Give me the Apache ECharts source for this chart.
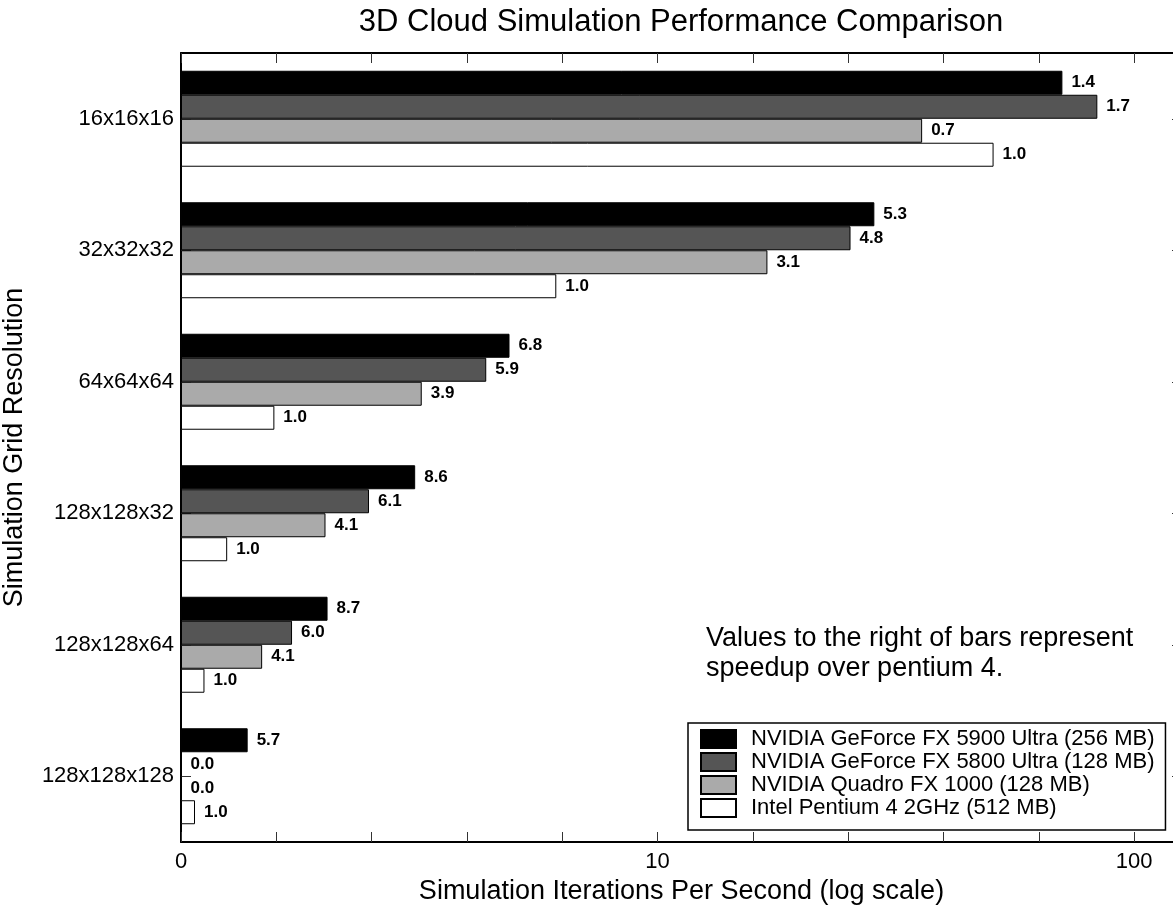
<!DOCTYPE html>
<html>
<head>
<meta charset="utf-8">
<script src="https://cdn.jsdelivr.net/npm/echarts@6/dist/echarts.min.js"></script>
<style>
  html, body { margin: 0; padding: 0; background: #fff; }
  #chart { width: 1173px; height: 905px; }
</style>
</head>
<body>
<div id="chart"></div>
<script>
// ---- data ----
const categories = ['16x16x16', '32x32x32', '64x64x64', '128x128x32', '128x128x64', '128x128x128'];
const seriesNames = [
  'NVIDIA GeForce FX 5900 Ultra (256 MB)',
  'NVIDIA GeForce FX 5800 Ultra (128 MB)',
  'NVIDIA Quadro FX 1000 (128 MB)',
  'Intel Pentium 4 2GHz (512 MB)'
];
// iterations per second (0 = not measured)
const fx5900 = [70.7, 28.5, 4.89, 3.10, 2.03, 1.38];
const fx5800 = [83.7, 25.4, 4.37, 2.48, 1.71, 0];
const quadro = [35.9, 17.0, 3.20, 2.01, 1.48, 0];
const p4     = [50.7, 6.13, 1.57, 1.25, 1.12, 1.07];
// speedup over pentium 4 (labels right of bars)
const speed5900   = [1.4, 5.3, 6.8, 8.6, 8.7, 5.7];
const speed5800   = [1.7, 4.8, 5.9, 6.1, 6.0, 0.0];
const speedQuadro = [0.7, 3.1, 3.9, 4.1, 4.1, 0.0];
const speedP4     = [1.0, 1.0, 1.0, 1.0, 1.0, 1.0];
const xTickValues = [1, 10, 100];
const xTickLabels = ['0', '10', '100'];
const annotationLines = ['Values to the right of bars represent', 'speedup over pentium 4.'];

// ---- chart ----
const FONT = 'Liberation Sans, Arial, Helvetica, sans-serif';
const X_MIN = 1, X_MAX = 126;
const LOG_MAX = Math.log10(X_MAX);
const colors = ['#000000', '#555555', '#aaaaaa', '#ffffff'];
const values = [fx5900, fx5800, quadro, p4];
const speeds = [speed5900, speed5800, speedQuadro, speedP4];

const series = values.map((arr, si) => ({
  name: seriesNames[si],
  type: 'bar',
  xAxisIndex: 0,
  yAxisIndex: 0,
  barGap: '0%',
  barCategoryGap: '27%',
  data: arr.map(v => (v > 0 ? v : X_MIN)),
  itemStyle: { color: colors[si], borderColor: '#000', borderWidth: 1 },
  label: {
    show: true,
    position: 'right',
    distance: 9,
    fontFamily: FONT,
    fontWeight: 'bold',
    fontSize: 17,
    color: '#000',
    formatter: p => speeds[si][p.dataIndex].toFixed(1)
  },
  emphasis: { disabled: true },
  animation: false
}));

const tickAxis = (pos, showLine) => ({
  type: 'value',
  gridIndex: 0,
  position: pos,
  min: 0,
  max: LOG_MAX,
  interval: 0.2,
  axisLine: { show: showLine, onZero: false, lineStyle: { color: '#000', width: 2 } },
  axisTick: { show: true, inside: true, length: 10, lineStyle: { color: '#333', width: 1 } },
  axisLabel: { show: false },
  splitLine: { show: false }
});

const option = {
  backgroundColor: '#fff',
  animation: false,
  title: {
    text: '3D Cloud Simulation Performance Comparison',
    left: 676,
    textAlign: 'center',
    top: 2,
    textStyle: { fontFamily: FONT, fontSize: 31, fontWeight: 'normal', color: '#000' }
  },
  grid: { left: 181, top: 53, right: -9, bottom: 63, containLabel: false, outerBoundsMode: 'none' },
  legend: {
    orient: 'vertical',
    left: 688,
    top: 723,
    padding: [5, 11, 11, 12],
    itemWidth: 35,
    itemHeight: 18,
    itemGap: 1,
    icon: 'rect',
    borderColor: '#000',
    borderWidth: 1.5,
    backgroundColor: '#fff',
    selectedMode: false,
    textStyle: { fontFamily: FONT, fontSize: 22, lineHeight: 22, color: '#000', padding: [0, 0, 0, 10] },
    data: seriesNames
  },
  xAxis: [
    {
      type: 'log',
      logBase: 10,
      min: X_MIN,
      max: X_MAX,
      position: 'bottom',
      name: 'Simulation Iterations Per Second (log scale)',
      nameLocation: 'middle',
      nameGap: 31,
      nameTextStyle: { fontFamily: FONT, fontSize: 27, color: '#000' },
      axisLine: { show: true, onZero: false, lineStyle: { color: '#000', width: 2 } },
      axisTick: { show: false },
      splitLine: { show: false },
      axisLabel: {
        fontFamily: FONT, fontSize: 22, color: '#000', margin: 9,
        showMaxLabel: false,
        formatter: v => {
          const i = xTickValues.findIndex(t => Math.abs(t - v) < 1e-6 * t);
          return i >= 0 ? xTickLabels[i] : '';
        }
      }
    },
    tickAxis('bottom', false),
    tickAxis('top', true)
  ],
  yAxis: [
    {
      type: 'category',
      data: categories,
      inverse: true,
      position: 'left',
      name: 'Simulation Grid Resolution',
      nameLocation: 'middle',
      nameGap: 153,
      nameTextStyle: { fontFamily: FONT, fontSize: 27, color: '#000' },
      axisLine: { show: true, onZero: false, lineStyle: { color: '#000', width: 2 } },
      axisTick: { show: true, inside: true, length: 10, alignWithLabel: true, lineStyle: { color: '#333', width: 1 } },
      axisLabel: { fontFamily: FONT, fontSize: 22, color: '#000', margin: 7 },
      splitLine: { show: false }
    },
    {
      type: 'category',
      data: categories,
      inverse: true,
      position: 'right',
      axisLine: { show: true, onZero: false, lineStyle: { color: '#000', width: 2 } },
      axisTick: { show: true, inside: true, length: 10, alignWithLabel: true, lineStyle: { color: '#333', width: 1 } },
      axisLabel: { show: false },
      splitLine: { show: false }
    }
  ],
  graphic: [
    {
      type: 'text',
      left: 706,
      top: 624,
      style: {
        text: annotationLines.join('\n'),
        fontFamily: FONT,
        fontSize: 27,
        lineHeight: 30,
        fill: '#000'
      }
    }
  ],
  series: series
};

const chart = echarts.init(document.getElementById('chart'), null, { renderer: 'canvas' });
chart.setOption(option);
</script>
</body>
</html>
